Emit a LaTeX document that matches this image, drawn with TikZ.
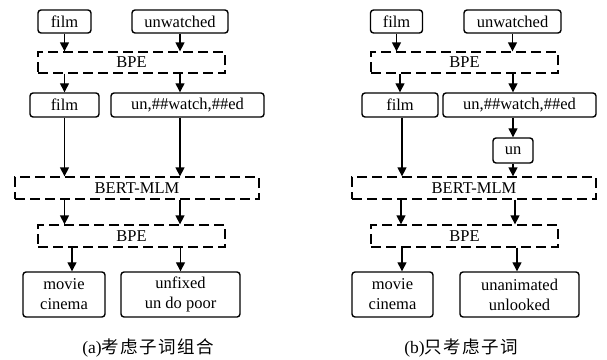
\documentclass[tikz,border=0pt]{standalone}
\usepackage{fontspec}
\setmainfont{Liberation Serif}
\newfontfamily\cjk[LetterSpace=8]{Noto Sans CJK SC}
\usetikzlibrary{arrows.meta}
\begin{document}
\begin{tikzpicture}[x=1pt,y=-1pt,
  every node/.style={font=\fontsize{16.5}{19}\selectfont, inner sep=0pt},
  rbox/.style={draw, line width=1.4pt, rounded corners=3pt, align=center},
  dbox/.style={draw, line width=1.3pt, dash pattern=on 10pt off 5pt},
  arr/.style={line width=1.3pt, -{Triangle[length=9pt,width=9pt]}},
  twoline/.style={font=\fontsize{16.5}{20}\selectfont},
  captext/.style={font=\fontsize{17.5}{20}\selectfont}]
\useasboundingbox (0,0) rectangle (607,359);
% ---------- panel (a) ----------
\node[rbox, minimum width=53, minimum height=23] (fa1) at (64.5,21.5) {film};
\node[rbox, minimum width=96, minimum height=23] (ua1) at (180,21.5) {unwatched};
\node[dbox, minimum width=187, minimum height=21] (pa1) at (131.5,62.5) {BPE};
\node[rbox, minimum width=69, minimum height=24] (fa2) at (64.5,105) {film};
\node[rbox, minimum width=153, minimum height=24] (ba2) at (187.5,105) {un,\#\#watch,\#\#ed};
\node[dbox, minimum width=244, minimum height=22] (ma) at (137,188) {BERT-MLM};
\node[dbox, minimum width=187, minimum height=22] (pa2) at (131.5,236) {BPE};
\node[rbox, twoline, minimum width=82, minimum height=45] (oa1) at (64,294.5) {movie\\cinema};
\node[rbox, twoline, minimum width=119, minimum height=45] (oa2) at (180.5,294.5) {unfixed\\un do poor};
\node[captext] (capa) at (148,348) {(a)\cjk 考虑子词组合};
\draw[arr] (fa1.south) -- (fa1.south |- pa1.north);
\draw[arr] (ua1.south) -- (ua1.south |- pa1.north);
\draw[arr] (fa2.north |- pa1.south) -- (fa2.north);
\draw[arr] (ua1.south |- pa1.south) -- (ua1.south |- ba2.north);
\draw[arr] (fa2.south) -- (fa2.south |- ma.north);
\draw[arr] (ua1.south |- ba2.south) -- (ua1.south |- ma.north);
\draw[arr] (fa2.south |- ma.south) -- (fa2.south |- pa2.north);
\draw[arr] (ua1.south |- ma.south) -- (ua1.south |- pa2.north);
\draw[arr] ([xshift=8pt]oa1.north |- pa2.south) -- ([xshift=8pt]oa1.north);
\draw[arr] (oa2.north |- pa2.south) -- (oa2.north);
% ---------- panel (b) ----------
\node[rbox, minimum width=52, minimum height=23] (fb1) at (396.5,21.5) {film};
\node[rbox, minimum width=97, minimum height=23] (ub1) at (512.5,21.5) {unwatched};
\node[dbox, minimum width=187, minimum height=21] (pb1) at (464.5,62.5) {BPE};
\node[rbox, minimum width=76, minimum height=24] (fb2) at (400,105) {film};
\node[rbox, minimum width=153, minimum height=24] (bb2) at (519.5,105) {un,\#\#watch,\#\#ed};
\node[rbox, minimum width=40, minimum height=25] (un) at (513,150.5) {un};
\node[dbox, minimum width=244, minimum height=22] (mb) at (474,188) {BERT-MLM};
\node[dbox, minimum width=187, minimum height=22] (pb2) at (464.5,236) {BPE};
\node[rbox, twoline, minimum width=81, minimum height=45] (ob1) at (392.5,294.5) {movie\\cinema};
\node[rbox, twoline, minimum width=119, minimum height=45] (ob2) at (519.5,294.5) {unanimated\\unlooked};
\node[captext] (capb) at (461,348) {(b)\cjk 只考虑子词};
\draw[arr] (fb1.south) -- (fb1.south |- pb1.north);
\draw[arr] (ub1.south) -- (ub1.south |- pb1.north);
\draw[arr] (fb2.north |- pb1.south) -- (fb2.north);
\draw[arr] (un.north |- pb1.south) -- (un.north |- bb2.north);
\draw[arr] (un.north |- bb2.south) -- (un.north);
\draw[arr] ([xshift=2pt]fb2.south) -- ([xshift=2pt]fb2.south |- mb.north);
\draw[arr] (un.south) -- (un.south |- mb.north);
\draw[arr] ([xshift=1pt]fb2.south |- mb.south) -- ([xshift=1pt]fb2.south |- pb2.north);
\draw[arr] ([xshift=2pt]un.south |- mb.south) -- ([xshift=2pt]un.south |- pb2.north);
\draw[arr] ([xshift=9.5pt]ob1.north |- pb2.south) -- ([xshift=9.5pt]ob1.north);
\draw[arr] ([xshift=-2.5pt]ob2.north |- pb2.south) -- ([xshift=-2.5pt]ob2.north);
\end{tikzpicture}
\end{document}
